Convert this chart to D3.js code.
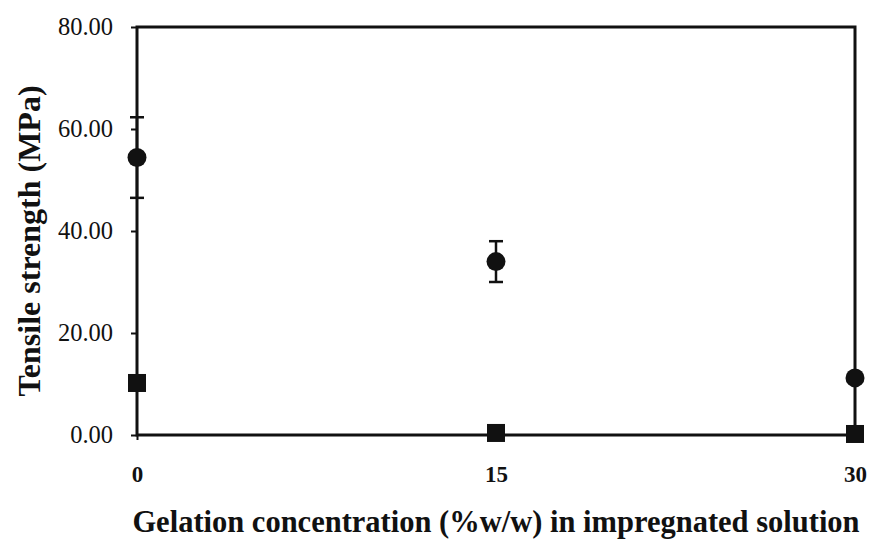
<!DOCTYPE html>
<html><head><meta charset="utf-8">
<script src="https://cdn.jsdelivr.net/npm/d3@7"></script>
<style>body{margin:0;background:#fff}</style>
</head><body>
<svg id="c" width="870" height="540"></svg>
<script>
const concentrations = [0, 15, 30];
const circleValues = [54.4, 34.0, 11.2];
const circleErrors = [7.9, 4.0, 0];
const squareValues = [10.2, 0.4, 0.2];
const yTicks = [0, 20, 40, 60, 80];
const xTicks = [0, 15, 30];

const svg = d3.select("#c");
const L = 137, R = 855, T = 27, B = 435;
const x = d3.scaleLinear().domain([0, 30]).range([L, R]);
const y = d3.scaleLinear().domain([0, 80]).range([B, T]);
const font = "'Liberation Serif','Times New Roman',serif";

// frame
svg.append("rect").attr("x", L).attr("y", T).attr("width", R - L).attr("height", B - T)
  .attr("fill", "none").attr("stroke", "#111").attr("stroke-width", 3);

const yAxis = svg.append("g").attr("transform", `translate(${L},0)`)
  .call(d3.axisLeft(y).tickValues(yTicks).tickFormat(d3.format(".2f")).tickSize(6).tickPadding(18));
yAxis.select(".domain").remove();
yAxis.selectAll("line").attr("stroke", "#111").attr("stroke-width", 2);
yAxis.selectAll("text").attr("font-family", font).attr("font-size", 24.5).attr("fill", "#111");

const xAxis = svg.append("g").attr("transform", `translate(0,${B})`)
  .call(d3.axisBottom(x).tickValues(xTicks).tickFormat(d3.format("d")).tickSize(5).tickPadding(26));
xAxis.select(".domain").remove();
xAxis.selectAll("line").attr("stroke", "#111").attr("stroke-width", 2);
xAxis.selectAll("text").attr("font-family", font).attr("font-weight", "bold").attr("font-size", 23).attr("fill", "#111");

// error bars
const eb = svg.append("g");
concentrations.forEach((c, i) => {
  const e = circleErrors[i];
  if (e <= 0) return;
  const cx = x(c), y1 = y(circleValues[i] + e), y2 = y(circleValues[i] - e);
  eb.append("line").attr("x1", cx).attr("x2", cx).attr("y1", y1).attr("y2", y2).attr("stroke", "#111").attr("stroke-width", 2.5);
  [y1, y2].forEach(yy => eb.append("line").attr("x1", cx - 7).attr("x2", cx + 7).attr("y1", yy).attr("y2", yy).attr("stroke", "#111").attr("stroke-width", 2.5));
});

svg.append("g").selectAll("circle").data(concentrations).join("circle")
  .attr("cx", d => x(d)).attr("cy", (d, i) => y(circleValues[i])).attr("r", 9.5).attr("fill", "#111");

svg.append("g").selectAll("rect").data(concentrations).join("rect")
  .attr("x", d => x(d) - 9).attr("y", (d, i) => y(squareValues[i]) - 9)
  .attr("width", 18).attr("height", 18).attr("fill", "#111");

svg.append("text").attr("x", 496).attr("y", 532).attr("text-anchor", "middle")
  .attr("font-family", font).attr("font-weight", "bold").attr("font-size", 30.5).attr("fill", "#111")
  .text("Gelation concentration (%w/w) in impregnated solution");

svg.append("text").attr("transform", "translate(40,241) rotate(-90)").attr("text-anchor", "middle")
  .attr("font-family", font).attr("font-weight", "bold").attr("font-size", 32).attr("fill", "#111")
  .text("Tensile strength (MPa)");
</script>
</body></html>
